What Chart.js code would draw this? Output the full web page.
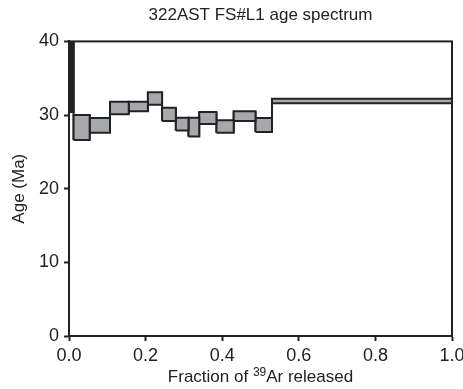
<!DOCTYPE html>
<html>
<head>
<meta charset="utf-8">
<script src="https://cdn.jsdelivr.net/npm/chart.js@4/dist/chart.umd.min.js"></script>
<style>
  html, body { margin: 0; padding: 0; background: #fff; }
  #wrap { width: 463px; height: 389px; }
</style>
</head>
<body>
<div id="wrap"><canvas id="spectrum"></canvas></div>
<script>
// Step boundaries (cumulative fraction of 39Ar released)
const fractionEdges = [0, 0.012, 0.054, 0.107, 0.156, 0.206, 0.243, 0.279, 0.312, 0.340, 0.385, 0.430, 0.487, 0.530, 1.0];
// Apparent age envelope of each step (Ma), lower and upper
const ageLow  = [30.4, 26.6, 27.6, 30.1, 30.5, 31.4, 29.2, 27.9, 27.1, 28.8, 27.6, 29.2, 27.7, 31.6];
const ageHigh = [60.0, 30.0, 29.6, 31.8, 31.8, 33.1, 31.0, 29.65, 29.65, 30.4, 29.3, 30.5, 29.6, 32.2];
const xTicks = [0, 0.2, 0.4, 0.6, 0.8, 1.0];
const yTicks = [0, 10, 20, 30, 40];

const INK = '#222';
const BOX_FILL = '#a6a8ab';
const FONT = "'Liberation Sans', Arial, Helvetica, sans-serif";

// one closed rectangle per heating step (the tiny first step is off scale, drawn solid)
const stepSets = ageLow.map((lo, i) => {
  const x0 = fractionEdges[i], x1 = fractionEdges[i + 1], hi = ageHigh[i];
  return {
    data: [{x: x0, y: lo}, {x: x1, y: lo}, {x: x1, y: hi}, {x: x0, y: hi}, {x: x0, y: lo}],
    showLine: true,
    fill: 'shape',
    backgroundColor: i === 0 ? INK : BOX_FILL,
    borderColor: INK,
    borderWidth: 2,
    borderJoinStyle: 'miter',
    pointRadius: 0,
    pointHoverRadius: 0,
    tension: 0
  };
});

// vertical risers joining neighbouring steps
const riserPts = [];
for (let i = 0; i < ageLow.length - 1; i++) {
  const x = fractionEdges[i + 1];
  riserPts.push({x, y: Math.min(ageLow[i], ageLow[i + 1])});
  riserPts.push({x, y: Math.max(ageHigh[i], ageHigh[i + 1])});
  riserPts.push({x, y: null});
}
const riserSet = {
  data: riserPts,
  showLine: true,
  spanGaps: false,
  fill: false,
  borderColor: INK,
  borderWidth: 2,
  pointRadius: 0,
  pointHoverRadius: 0
};

// box around the plot area + x title with superscript mass number
const framePlugin = {
  id: 'frame',
  afterDatasetsDraw(chart) {
    const {ctx, chartArea: a} = chart;
    ctx.save();
    ctx.strokeStyle = INK;
    ctx.lineWidth = 2;
    ctx.strokeRect(a.left, a.top, a.right - a.left, a.bottom - a.top);
    ctx.restore();
  },
  afterDraw(chart) {
    const {ctx, chartArea: a} = chart;
    const parts = [
      {t: 'Fraction of ', size: 17, dy: 0},
      {t: '39', size: 12, dy: -6},
      {t: 'Ar released', size: 17, dy: 0}
    ];
    ctx.save();
    ctx.fillStyle = INK;
    ctx.textBaseline = 'alphabetic';
    let total = 0;
    parts.forEach(p => { ctx.font = p.size + 'px ' + FONT; p.w = ctx.measureText(p.t).width; total += p.w; });
    let x = (a.left + a.right) / 2 - total / 2;
    const y = 382;
    parts.forEach(p => {
      ctx.font = p.size + 'px ' + FONT;
      ctx.fillText(p.t, x, y + p.dy);
      x += p.w;
    });
    ctx.restore();
  }
};

new Chart(document.getElementById('spectrum'), {
  type: 'scatter',
  data: { datasets: [...stepSets, riserSet] },
  options: {
    responsive: true,
    maintainAspectRatio: false,
    animation: false,
    events: [],
    layout: { padding: { top: 0, right: 11, bottom: 0, left: 0 } },
    plugins: {
      legend: { display: false },
      tooltip: { enabled: false },
      title: {
        display: true,
        fullSize: false,
        text: '322AST FS#L1 age spectrum',
        color: INK,
        font: { family: FONT, size: 17, weight: 'normal' },
        padding: { top: 5, bottom: 16 }
      }
    },
    scales: {
      x: {
        type: 'linear',
        min: 0,
        max: 1,
        afterBuildTicks: s => { s.ticks = xTicks.map(v => ({value: v})); },
        afterFit: s => { s.paddingLeft = 0; s.paddingRight = 0; s.height = 53; },
        ticks: {
          color: INK,
          font: { family: FONT, size: 18 },
          padding: 4,
          maxRotation: 0,
          callback: v => v.toFixed(1)
        },
        grid: { drawOnChartArea: false, tickLength: 5, tickColor: INK, tickWidth: 2 },
        border: { color: INK, width: 2 }
      },
      y: {
        min: 0,
        max: 40,
        afterBuildTicks: s => { s.ticks = yTicks.map(v => ({value: v})); },
        afterFit: s => { s.paddingTop = 0; s.paddingBottom = 0; s.width = 69; },
        ticks: {
          color: INK,
          font: { family: FONT, size: 18 },
          padding: 5
        },
        title: {
          display: true,
          text: 'Age (Ma)',
          color: INK,
          font: { family: FONT, size: 17 },
          padding: { top: 9, bottom: 0 }
        },
        grid: { drawOnChartArea: false, tickLength: 5, tickColor: INK, tickWidth: 2 },
        border: { color: INK, width: 2 }
      }
    }
  },
  plugins: [framePlugin]
});
</script>
</body>
</html>
